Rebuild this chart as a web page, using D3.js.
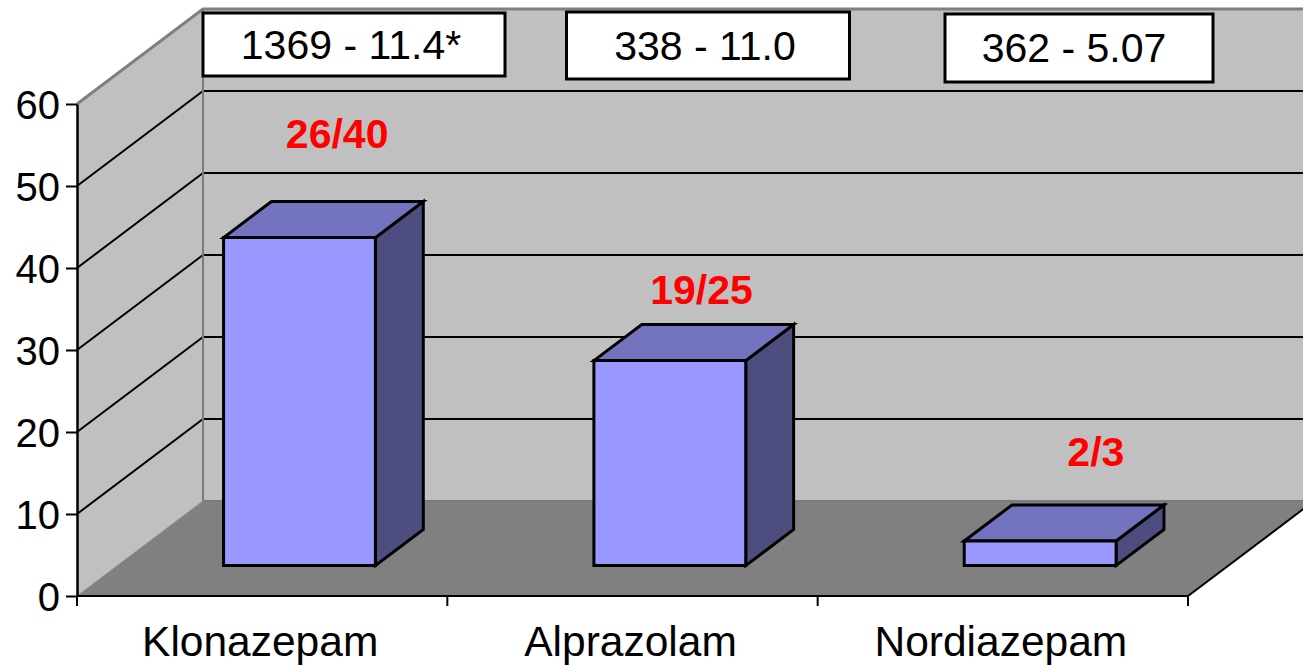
<!DOCTYPE html>
<html>
<head>
<meta charset="utf-8">
<script src="https://cdn.jsdelivr.net/npm/d3@7"></script>
<style>
  html, body { margin: 0; padding: 0; background: #ffffff; }
  svg { display: block; }
  text { font-family: "Liberation Sans", Arial, sans-serif; }
</style>
</head>
<body>
<svg id="chart" width="1303" height="671"></svg>
<script>
// ---- data ----
const categories = ["Klonazepam", "Alprazolam", "Nordiazepam"];
const values = [40, 25, 3];
const ratioLabels = ["26/40", "19/25", "2/3"];
const ratioLabelValues = [43.1, 24.0, 4.3];   // annotation height, in axis units (on back wall)
const boxLabels = ["1369 - 11.4*", "338 - 11.0", "362 - 5.07"];
const yTicks = [0, 10, 20, 30, 40, 50, 60];

// ---- layout ----
const W = 1303, H = 671;
const left = 77, right = 1188;
const yBottom = 596, yTop = 104;
const depthX = 126, depthY = -95;       // full depth offset of 3D box
const barFront = 0.32, barBack = 0.70;  // bar depth fractions
const barWidthFrac = 0.41;
const barShift = -3;
const ratioLabelDx = [75, 69, 93];      // px offset from category centre

const svg = d3.select("#chart");

const x = d3.scaleBand().domain(categories).range([left, right]).padding(0);
const y = d3.scaleLinear().domain([0, 60]).range([yBottom, yTop]);

const P = (px, v, d) => [px + d * depthX, y(v) + d * depthY];
const poly = pts => "M" + pts.map(p => p.join(",")).join("L") + "Z";

const backRight = right + depthX;

// left wall
svg.append("path")
  .attr("d", poly([P(left, 0, 0), P(left, 60, 0), P(left, 60, 1), P(left, 0, 1)]))
  .attr("fill", "#C0C0C0");
// back wall
svg.append("path")
  .attr("d", poly([P(left, 0, 1), P(left, 60, 1), [backRight, y(60) + depthY], [backRight, y(0) + depthY]]))
  .attr("fill", "#C0C0C0");
// floor
svg.append("path")
  .attr("d", poly([P(left, 0, 0), P(left, 0, 1), P(right, 0, 1), P(right, 0, 0)]))
  .attr("fill", "#808080");

// gridlines (left wall diagonals + back wall horizontals)
const grid = svg.append("g");
yTicks.filter(v => v > 0 && v < 60).forEach(v => {
  grid.append("path")
    .attr("d", "M" + P(left, v, 0) + "L" + P(left, v, 1) + "L" + P(right, v, 1))
    .attr("fill", "none").attr("stroke", "#000").attr("stroke-width", 2);
});

// wall edges (grey)
svg.append("path")
  .attr("d", "M" + P(left, 60, 0) + "L" + P(left, 60, 1) + "L" + P(right, 60, 1))
  .attr("fill", "none").attr("stroke", "#808080").attr("stroke-width", 3);
svg.append("path")
  .attr("d", "M" + P(left, 60, 1) + "L" + P(left, 0, 1) + "L" + P(right, 0, 1))
  .attr("fill", "none").attr("stroke", "#7a7a7a").attr("stroke-width", 2);
svg.append("path")
  .attr("d", "M" + P(left, 0, 0) + "L" + P(left, 0, 1))
  .attr("fill", "none").attr("stroke", "#8c8c8c").attr("stroke-width", 1);

// floor front & right edges (black)
svg.append("path")
  .attr("d", "M" + P(left, 0, 0) + "L" + P(right, 0, 0) + "L" + P(right, 0, 1))
  .attr("fill", "none").attr("stroke", "#000").attr("stroke-width", 2);

// bars
const bw = x.bandwidth() * barWidthFrac;
const bars = svg.append("g").selectAll("g").data(categories).join("g");
bars.each(function (c, i) {
  const g = d3.select(this);
  const v = values[i];
  const x0 = x(c) + (x.bandwidth() - bw) / 2 + barShift;
  const x1 = x0 + bw;
  const f = [P(x0, 0, barFront), P(x0, v, barFront), P(x1, v, barFront), P(x1, 0, barFront)];
  const top = [P(x0, v, barFront), P(x0, v, barBack), P(x1, v, barBack), P(x1, v, barFront)];
  const side = [P(x1, 0, barFront), P(x1, v, barFront), P(x1, v, barBack), P(x1, 0, barBack)];
  const common = s => s.attr("stroke", "#000").attr("stroke-width", 3).attr("stroke-linejoin", "miter");
  common(g.append("path").attr("d", poly(side)).attr("fill", "#4D4D80"));
  common(g.append("path").attr("d", poly(top)).attr("fill", "#7373BF"));
  common(g.append("path").attr("d", poly(f)).attr("fill", "#9999FF"));
});

// y axis
const yAxis = d3.axisLeft(y).tickValues(yTicks).tickSize(11).tickSizeOuter(0).tickPadding(6);
const ya = svg.append("g").attr("transform", `translate(${left},0)`).call(yAxis);
ya.select(".domain").attr("stroke", "#000").attr("stroke-width", 2.5);
ya.selectAll(".tick line").attr("stroke", "#000").attr("stroke-width", 2);
ya.selectAll(".tick text").attr("font-size", 40).attr("fill", "#000")
  .attr("font-family", "'Liberation Sans', Arial, sans-serif").attr("dy", "0.36em");

// x axis ticks at band boundaries
const bounds = categories.map(c => x(c)).concat([right]);
svg.append("g").selectAll("line").data(bounds).join("line")
  .attr("x1", d => d).attr("x2", d => d)
  .attr("y1", yBottom).attr("y2", yBottom + 10)
  .attr("stroke", "#000").attr("stroke-width", 2);

svg.append("g").selectAll("text").data(categories).join("text")
  .attr("x", d => x(d) + x.bandwidth() / 2 - 2)
  .attr("y", 656)
  .attr("text-anchor", "middle")
  .attr("font-size", 42.5)
  .attr("fill", "#000")
  .text(d => d);

// ratio labels (red)
svg.append("g").selectAll("text").data(ratioLabels).join("text")
  .attr("x", (d, i) => x(categories[i]) + x.bandwidth() / 2 + ratioLabelDx[i])
  .attr("y", (d, i) => y(ratioLabelValues[i]) + depthY)
  .attr("text-anchor", "middle")
  .attr("font-size", 41)
  .attr("font-weight", "bold")
  .attr("fill", "#FF0000")
  .text(d => d);

// top boxes
const boxGeom = [
  { cx: 354, top: 13, w: 302, h: 63 },
  { cx: 708, top: 12, w: 283, h: 67 },
  { cx: 1079, top: 14, w: 268, h: 68 }
];
const boxTextDx = [-3, -3, -5];
const boxes = svg.append("g").selectAll("g").data(boxLabels).join("g");
boxes.append("rect")
  .attr("x", (d, i) => boxGeom[i].cx - boxGeom[i].w / 2)
  .attr("y", (d, i) => boxGeom[i].top)
  .attr("width", (d, i) => boxGeom[i].w)
  .attr("height", (d, i) => boxGeom[i].h)
  .attr("fill", "#fff").attr("stroke", "#000").attr("stroke-width", 3);
boxes.append("text")
  .attr("x", (d, i) => boxGeom[i].cx + boxTextDx[i])
  .attr("y", (d, i) => boxGeom[i].top + boxGeom[i].h / 2 + 14)
  .attr("text-anchor", "middle")
  .attr("font-size", 41)
  .attr("fill", "#000")
  .text(d => d);
</script>
</body>
</html>
